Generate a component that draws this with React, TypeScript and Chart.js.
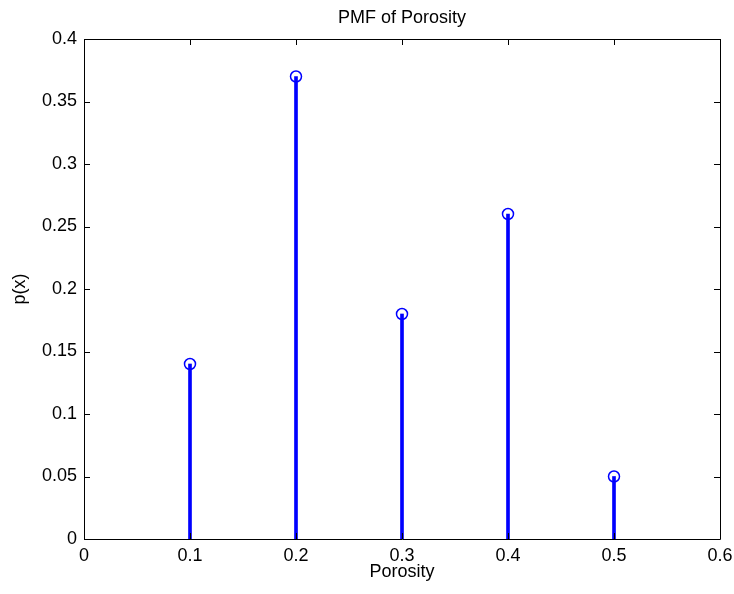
import React, { useEffect, useRef } from "react";
import { Chart, registerables } from "chart.js";

Chart.register(...registerables);

const porosity = [0.1, 0.2, 0.3, 0.4, 0.5];
const probability = [0.14, 0.37, 0.18, 0.26, 0.05];
const xTickLabels = ["0", "0.1", "0.2", "0.3", "0.4", "0.5", "0.6"];
const yTickLabels = ["0", "0.05", "0.1", "0.15", "0.2", "0.25", "0.3", "0.35", "0.4"];
const chartTitle = "PMF of Porosity";
const xTitle = "Porosity";
const yTitle = "p(x)";

const FONT = "'Liberation Sans', Arial, Helvetica, sans-serif";
const BLUE = "#0000ff";

const boxPlugin = {
  id: "matlabBox",
  afterDraw(chart: any) {
    const { ctx, chartArea } = chart;
    const { left, right, top, bottom } = chartArea;
    const xs = chart.scales.x;
    const ys = chart.scales.y;
    const tl = 6;
    ctx.save();
    ctx.strokeStyle = "#000";
    ctx.lineWidth = 1;
    ctx.beginPath();
    ctx.rect(Math.round(left) + 0.5, Math.round(top) + 0.5, Math.round(right - left), Math.round(bottom - top));
    ctx.stroke();
    ctx.beginPath();
    xs.ticks.forEach((t: any) => {
      const px = Math.round(xs.getPixelForValue(t.value)) + 0.5;
      ctx.moveTo(px, bottom);
      ctx.lineTo(px, bottom - tl);
      ctx.moveTo(px, top);
      ctx.lineTo(px, top + tl);
    });
    ys.ticks.forEach((t: any) => {
      const py = Math.round(ys.getPixelForValue(t.value)) + 0.5;
      ctx.moveTo(left, py);
      ctx.lineTo(left + tl, py);
      ctx.moveTo(right, py);
      ctx.lineTo(right - tl, py);
    });
    ctx.stroke();
    ctx.fillStyle = "#000";
    ctx.font = `18px ${FONT}`;
    ctx.textAlign = "center";
    ctx.textBaseline = "middle";
    ctx.fillText(chartTitle, (left + right) / 2, 18);
    ctx.restore();
  },
};

export default function App() {
  const ref = useRef<HTMLCanvasElement | null>(null);
  useEffect(() => {
    if (!ref.current) return;
    const pts = porosity.map((x, i) => ({ x, y: probability[i] }));
    const chart = new Chart(ref.current, {
      type: "bar",
      data: {
        datasets: [
          {
            type: "bar",
            data: pts,
            backgroundColor: BLUE,
            borderWidth: 0,
            barThickness: 3,
            order: 2,
          } as any,
          {
            type: "scatter",
            data: pts,
            pointStyle: "circle",
            pointRadius: 5.5,
            pointBorderWidth: 1.5,
            borderColor: BLUE,
            backgroundColor: "rgba(0,0,0,0)",
            showLine: false,
            order: 1,
          } as any,
        ],
      },
      options: {
        responsive: false,
        animation: false,
        layout: { padding: { top: 39, right: 14, left: 0, bottom: 0 } },
        plugins: {
          legend: { display: false },
          tooltip: { enabled: false },
          title: { display: false },
        },
        scales: {
          x: {
            type: "linear",
            min: 0,
            max: 0.6,
            offset: false,
            grid: { display: false, drawTicks: false },
            border: { display: false },
            ticks: {
              stepSize: 0.1,
              padding: 6,
              color: "#000",
              font: { family: FONT, size: 18 },
              maxRotation: 0,
              callback: (_v: any, i: number) => xTickLabels[i],
            },
            title: {
              display: true,
              text: xTitle,
              color: "#000",
              font: { family: FONT, size: 18 },
              padding: { top: 0, bottom: 11 },
            },
            afterFit: (s: any) => {
              s.height = 55;
              s.paddingLeft = 0;
              s.paddingRight = 0;
            },
          },
          y: {
            type: "linear",
            min: 0,
            max: 0.4,
            grid: { display: false, drawTicks: false },
            border: { display: false },
            ticks: {
              stepSize: 0.05,
              padding: 7,
              color: "#000",
              font: { family: FONT, size: 18 },
              callback: (_v: any, i: number) => yTickLabels[i],
            },
            title: {
              display: true,
              text: yTitle,
              color: "#000",
              font: { family: FONT, size: 18 },
              padding: { top: 9, bottom: 0 },
            },
            afterFit: (s: any) => {
              s.width = 84;
              s.paddingTop = 0;
              s.paddingBottom = 0;
            },
          },
        },
      } as any,
      plugins: [boxPlugin],
    });
    return () => chart.destroy();
  }, []);
  return (
    <div style={{ position: "fixed", left: 0, top: 0, width: 734, height: 594, background: "#fff" }}>
      <canvas ref={ref} width={734} height={594} />
    </div>
  );
}
